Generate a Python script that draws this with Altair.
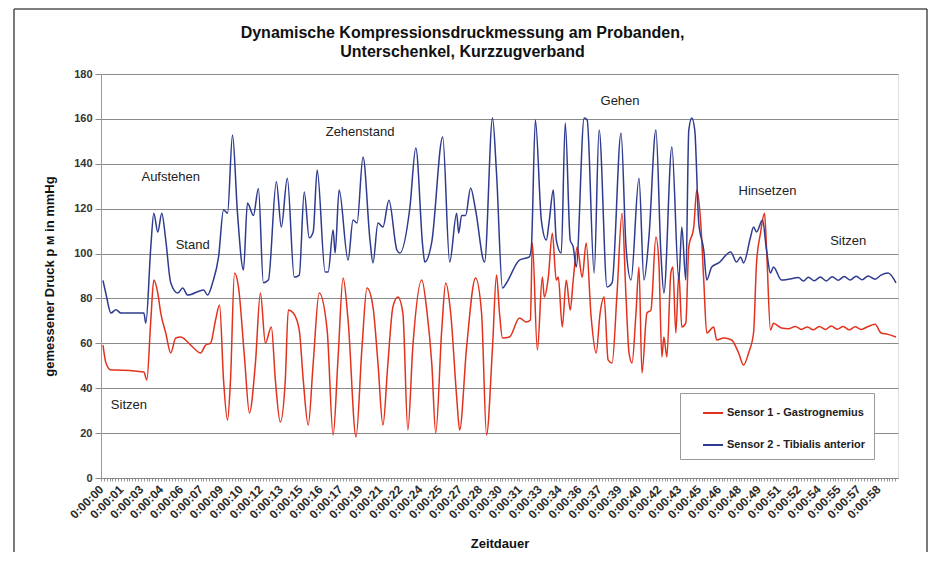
import altair as alt
import pandas as pd

# ---------------- data ----------------
tick_labels = ["0:00:00", "0:00:01", "0:00:03", "0:00:04", "0:00:06", "0:00:07", "0:00:09", "0:00:10",
               "0:00:12", "0:00:13", "0:00:15", "0:00:16", "0:00:17", "0:00:19", "0:00:21", "0:00:22",
               "0:00:24", "0:00:25", "0:00:27", "0:00:28", "0:00:30", "0:00:31", "0:00:33", "0:00:34",
               "0:00:36", "0:00:37", "0:00:39", "0:00:40", "0:00:42", "0:00:43", "0:00:45", "0:00:46",
               "0:00:48", "0:00:49", "0:00:51", "0:00:52", "0:00:54", "0:00:55", "0:00:57", "0:00:58"]
samples_per_label = 20

series_names = ["Sensor 1 - Gastrognemius", "Sensor 2 - Tibialis anterior"]

# Sensor 2 (blue) : sample index / pressure
s2_x = [2, 5, 10, 15, 20, 43, 45, 50, 53, 57, 61, 65, 70, 77, 82, 87, 103, 107, 112, 118, 123, 127, 132, 137,
        143, 147, 153, 158, 163, 168, 176, 181, 187, 194, 199, 204, 209, 213, 217, 225, 228, 233, 235, 239,
        248, 253, 257, 263, 270, 273, 278, 283, 289, 297, 300, 310, 316, 323, 325, 332, 343, 350, 357, 359,
        362, 366, 371, 376, 385, 393, 397, 403, 407, 420, 430, 432, 436, 442, 447, 450, 454, 457, 462, 466,
        471, 474, 477, 485, 488, 495, 500, 508, 513, 522, 527, 532, 540, 545, 550, 557, 562, 565, 573, 580,
        583, 587, 590, 593, 596, 600, 605, 608, 613, 620, 632, 638, 642, 645, 652, 655, 658, 664, 668, 672,
        675, 683, 690, 700, 705, 710, 716, 722, 728, 734, 740, 746, 752, 758, 764, 770, 777, 783, 790, 798]
s2_y = [88, 82, 73.5, 75, 73.5, 73.5, 69, 103, 118, 109.6, 118, 106, 87, 82.4, 84.6, 81.5, 83.8, 81.5, 87, 98.5,
        119.4, 118, 152.8, 118, 92.7, 122.5, 117, 129, 87, 88.2, 132, 111.8, 133.6, 89.5, 90.4, 127.4, 107,
        109.6, 137.2, 91.8, 91.8, 110.5, 100.2, 128.3, 97.1, 114.9, 113.6, 143, 106, 95.8, 113.6, 111.8,
        123.8, 101.6, 100.2, 120.3, 147, 102.9, 96.2, 105.1, 151.9, 96.2, 118, 109.1, 117, 117, 129.2, 119.4,
        96.2, 160.4, 135.9, 84.6, 86.9, 97.1, 98.5, 102.9, 159.5, 114.9, 106, 114.9, 128.3, 106, 100.2, 158.2,
        106, 102.9, 94, 160.4, 159.5, 91.3, 155, 85.1, 86.9, 153.7, 102.9, 88.2, 133.6, 88.2, 107.4, 155,
        100.2, 82.4, 147.5, 88.2, 111.8, 88.2, 155, 160.4, 155, 113.6, 101.6, 88.2, 94, 95.8, 100.7, 96.2,
        98.5, 95.8, 107.4, 111.8, 109.6, 114.9, 101.6, 91.3, 94, 88.2, 88.5, 89.3, 87.8, 89.4, 87.9, 89.5,
        87.8, 89.7, 88.1, 89.8, 88.2, 89.9, 88.3, 90, 88.6, 90.4, 91.3, 86.9, 86, 85.1]

# Sensor 1 (red) : sample index / pressure
s1_x = [2, 5, 10, 15, 43, 46, 50, 53, 57, 60, 65, 70, 75, 80, 87, 93, 100, 105, 110, 115, 119, 123, 127, 130,
        134, 138, 144, 149, 155, 160, 165, 171, 175, 180, 185, 188, 193, 199, 203, 208, 213, 219, 227, 233,
        238, 243, 248, 256, 262, 267, 273, 278, 283, 288, 293, 298, 303, 308, 313, 322, 327, 332, 336, 342,
        346, 351, 357, 360, 367, 376, 382, 387, 393, 397, 400, 403, 410, 420, 427, 431, 433, 438, 443, 445,
        449, 453, 457, 459, 463, 467, 471, 474, 478, 483, 487, 492, 497, 501, 505, 509, 513, 518, 523, 527,
        530, 533, 537, 540, 543, 548, 552, 557, 560, 563, 565, 568, 572, 574, 577, 580, 583, 587, 590, 595,
        598, 602, 605, 608, 615, 618, 625, 633, 640, 645, 650, 655, 658, 662, 666, 668, 672, 675, 683, 690,
        697, 703, 709, 715, 721, 727, 733, 739, 745, 751, 757, 763, 770, 777, 783, 790, 798]
s1_y = [59.2, 51.2, 48.1, 48.1, 47.2, 43.7, 70.4, 88.2, 82.4, 73.5, 64.6, 55.7, 62.4, 62.8, 60.6, 57.9, 55.7,
        59.2, 60.1, 70.4, 77.1, 43.7, 25.8, 43.7, 91.3, 85.1, 53.9, 29, 51.2, 82.4, 60.1, 67.3, 43.7, 24.9,
        43.7, 74.8, 73.5, 65.9, 43.7, 23.6, 51.2, 82.4, 65.9, 19.2, 53.9, 89.1, 70.4, 18.3, 58.4, 84.6, 76.2,
        51.2, 23.6, 51.2, 76.2, 80.6, 73.5, 21.4, 58.4, 88.2, 74.8, 51.2, 20, 65.9, 86.9, 73.5, 36.1, 21.4,
        58.4, 89.1, 73.5, 19.2, 58.4, 90.4, 73.5, 62.4, 62.8, 71.3, 69.5, 70.4, 104.7, 57, 89.5, 80.6, 89.5,
        109.1, 88.2, 89.5, 67.3, 88.2, 74.8, 88.2, 102.9, 89.5, 104.7, 71.7, 55.7, 73.5, 80.6, 52.6, 51.2,
        82.4, 118, 80.6, 55.7, 51.2, 73.5, 94, 46.8, 73.5, 74.8, 107.4, 95.8, 53.9, 62.8, 53.9, 91.3, 94,
        64.6, 91.3, 67.3, 69, 102.9, 111.8, 128.3, 113.6, 88.2, 64.6, 67.3, 61.5, 62.4, 61.5, 55.7, 50.3,
        55.7, 64.6, 95.8, 109.1, 118, 102.9, 65.9, 69, 66.8, 66.5, 67.5, 66.2, 67.3, 66, 67.5, 66.2, 67.7,
        66.3, 67.5, 66, 67.4, 66.2, 67.5, 68.5, 64.6, 64, 62.8]

# phase annotations
ann_text = ["Aufstehen", "Stand", "Zehenstand", "Sitzen", "Gehen", "Hinsetzen", "Sitzen"]
ann_x = [70, 92, 260, 28, 521, 669, 750]
ann_y = [134, 104, 154, 32.5, 168, 128, 105.6]

# ---------------- frames ----------------
rows = []
for xx, yy in zip(s1_x, s1_y):
    rows.append({"sample": xx, "druck": yy, "serie": series_names[0]})
for xx, yy in zip(s2_x, s2_y):
    rows.append({"sample": xx, "druck": yy, "serie": series_names[1]})
df = pd.DataFrame(rows)
ann_df = pd.DataFrame({"text": ann_text, "sample": ann_x, "druck": ann_y})

n_lab = len(tick_labels)
x_max = n_lab * samples_per_label
minor_step = samples_per_label / 7
tick_vals = [round(i * minor_step, 4) for i in range(int(round(x_max / minor_step)))]
lab_arr = "[" + ",".join("'" + s + "'" for s in tick_labels) + "]"
label_expr = (f"abs(datum.value/{samples_per_label} - round(datum.value/{samples_per_label})) < 0.01 ? "
              f"{lab_arr}[round(datum.value/{samples_per_label})] : ''")

FONT = "Liberation Sans"

x_scale = alt.Scale(domain=[0, x_max], nice=False, zero=False)
y_scale = alt.Scale(domain=[0, 180], nice=False)

x_axis = alt.Axis(values=tick_vals, labelExpr=label_expr, labelAngle=-45, labelAlign="right",
                  labelBaseline="middle", labelFont=FONT, labelFontSize=12, labelFontWeight="bold",
                  labelColor="#2a2a2a", labelOverlap=False, labelPadding=6, labelFlush=False,
                  labelBound=False,
                  tickSize=3, tickColor="#999", domainColor="#888", grid=False,
                  title="Zeitdauer", titleFont=FONT, titleFontSize=13, titleFontWeight="bold",
                  titleColor="#111", titleY=69, titleBaseline="alphabetic")
y_axis = alt.Axis(values=list(range(0, 181, 20)), labelFont=FONT, labelFontSize=11,
                  labelFontWeight="bold", labelColor="#333", tickSize=6, tickColor="#888",
                  labelPadding=3, domainColor="#999", gridColor="#8a8a8a", gridWidth=1,
                  title="gemessener Druck p  м in mmHg", titleFont=FONT, titleFontSize=13,
                  titleFontWeight="bold", titleColor="#111", titleX=-52, titleY=202,
                  titleAngle=-90, titleAlign="center", titleBaseline="middle")

x_enc = alt.X("sample:Q", scale=x_scale, axis=x_axis)
y_enc = alt.Y("druck:Q", scale=y_scale, axis=y_axis)

lines = alt.Chart(df).mark_line(strokeWidth=1.5, interpolate="monotone").encode(
    x=x_enc,
    y=y_enc,
    color=alt.Color("serie:N",
                    scale=alt.Scale(domain=series_names, range=["#e2321e", "#2e3b8f"]),
                    legend=alt.Legend(title=None, orient="none", legendX=579, legendY=319,
                                      symbolType="stroke", symbolSize=400, symbolStrokeWidth=2,
                                      labelFont=FONT, labelFontSize=11, labelFontWeight="bold",
                                      labelColor="#222", labelOffset=3, rowPadding=16, padding=9,
                                      symbolOffset=13, fillColor="white", strokeColor="#999",
                                      labelLimit=300)),
    order=alt.Order("sample:Q"),
)

labels = alt.Chart(ann_df).mark_text(font=FONT, fontSize=13, color="#222", align="center",
                                     baseline="middle").encode(
    x=x_enc, y=y_enc, text="text:N")

frame_df = pd.DataFrame({"a": [0]})
frame_left = alt.Chart(frame_df).mark_rule(color="#222", strokeWidth=1.2).encode(
    x=alt.value(-87), y=alt.value(-65), y2=alt.value(490))
frame_top = alt.Chart(frame_df).mark_rule(color="#555", strokeWidth=1.5).encode(
    x=alt.value(-87), x2=alt.value(826), y=alt.value(-65))
frame_right = alt.Chart(frame_df).mark_rule(color="#222", strokeWidth=1.2).encode(
    x=alt.value(826), y=alt.value(-65), y2=alt.value(490))

chart = alt.layer(frame_left, frame_top, frame_right, lines, labels).properties(
    width=797, height=404,
    autosize=alt.AutoSizeParams(type="none"),
    padding={"left": 93, "top": 66, "right": 30, "bottom": 74},
    title=alt.TitleParams(["Dynamische Kompressionsdruckmessung am Probanden,", "Unterschenkel, Kurzzugverband"],
                          font=FONT, fontSize=16, fontWeight="bold", color="#111", anchor="middle",
                          frame="group", dx=-37, dy=62, offset=10, lineHeight=19),
).configure_view(stroke="#aaa", strokeWidth=1).configure(background="white")

chart.save("out.html", embed_options={"renderer": "svg", "actions": False})
